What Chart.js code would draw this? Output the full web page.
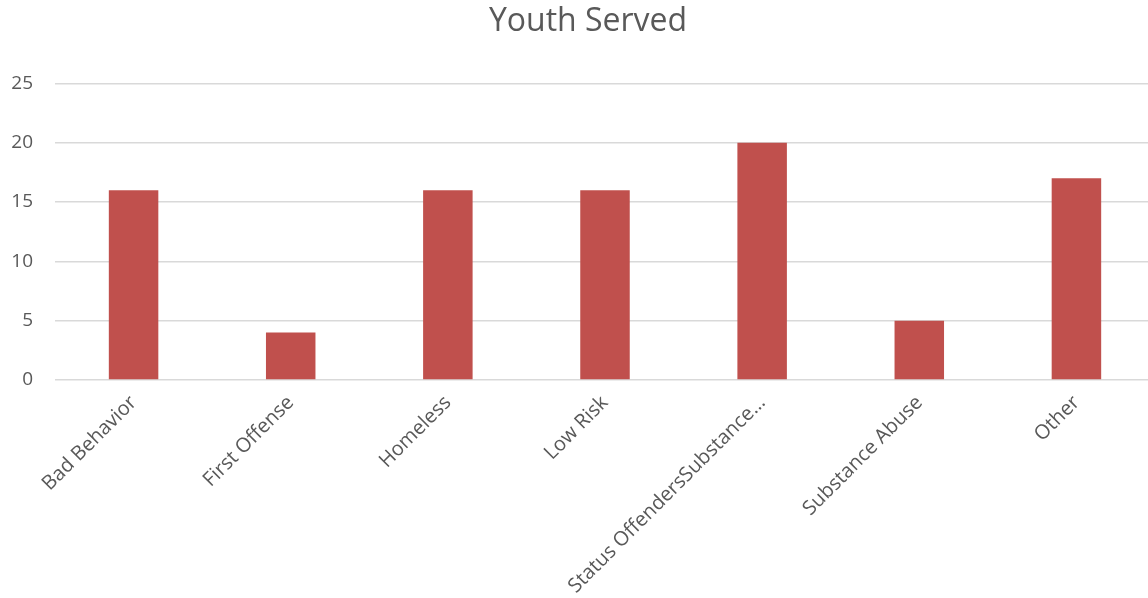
<!DOCTYPE html>
<html>
<head>
<meta charset="utf-8">
<script src="https://cdn.jsdelivr.net/npm/chart.js@4"></script>
<style>
  html, body { margin: 0; padding: 0; background: #fff; overflow: hidden; }
  #wrap { width: 1148px; height: 598px; overflow: hidden; }
</style>
</head>
<body>
<div id="wrap"><canvas id="chart" width="1176" height="598"></canvas></div>
<script>
// ========= DATA =========
const categories = ['Bad Behavior', 'First Offense', 'Homeless', 'Low Risk', 'Status OffendersSubstance…', 'Substance Abuse', 'Other'];
const youthServed = [16, 4, 16, 16, 20, 5, 17];
const yTicks = [0, 5, 10, 15, 20, 25];

const FONT = '"Open Sans", "Noto Sans", sans-serif';
const GREY = '#595959';

// the original chart is a bit wider than the picture, so it's cropped on the right
// (an empty right axis keeps the plot narrower while the title stays centred on the full width)
const ctx = document.getElementById('chart').getContext('2d');
new Chart(ctx, {
    type: 'bar',
    data: {
        labels: categories,
        datasets: [{
            label: 'Youth Served',
            data: youthServed,
            backgroundColor: '#c0504d',
            borderWidth: 0,
            categoryPercentage: 1,
            barPercentage: 0.315
        }]
    },
    options: {
        responsive: false,
        animation: false,
        layout: { padding: 0 },
        plugins: {
            legend: { display: false },
            tooltip: { enabled: false },
            title: {
                display: true,
                text: 'Youth Served',
                color: GREY,
                font: { family: FONT, size: 32, weight: 'normal' },
                padding: { top: 3, bottom: 42 }
            }
        },
        scales: {
            x: {
                offset: true,
                grid: { display: false },
                border: { display: false },
                ticks: {
                    color: GREY,
                    font: { family: FONT, size: 20 },
                    autoSkip: false,
                    minRotation: 45,
                    maxRotation: 45,
                    padding: 3
                },
                afterFit: s => { s.height = 218; }
            },
            y: {
                min: 0,
                max: 25,
                afterBuildTicks: s => { s.ticks = yTicks.map(v => ({ value: v })); },
                grid: { color: '#d9d9d9', lineWidth: 1.5, drawTicks: false },
                border: { display: false },
                ticks: {
                    color: GREY,
                    font: { family: FONT, size: 19 },
                    padding: 22
                },
                afterFit: s => { s.width = 55; }
            },
            spacer: {
                position: 'right',
                grid: { display: false },
                border: { display: false },
                ticks: { display: false },
                afterFit: s => { s.width = 21; }
            }
        }
    }
});
</script>
</body>
</html>
